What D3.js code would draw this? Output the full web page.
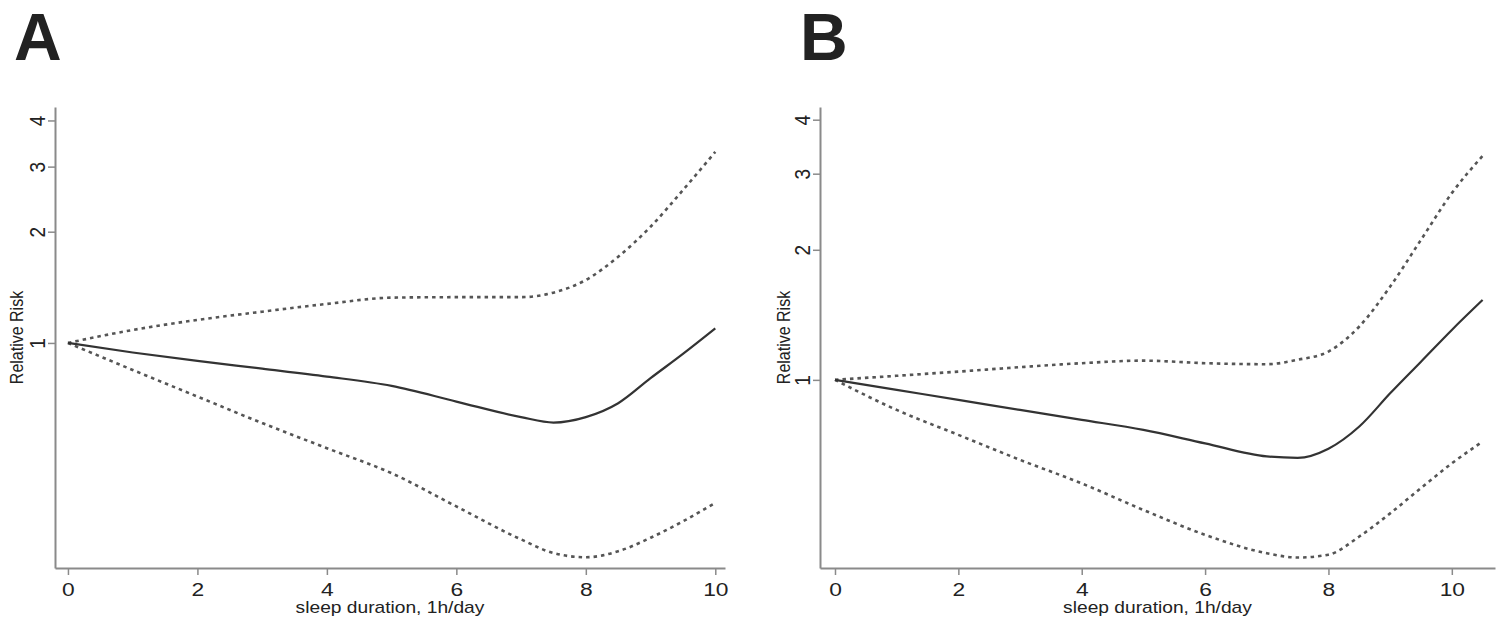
<!DOCTYPE html>
<html>
<head>
<meta charset="utf-8">
<script src="https://cdn.jsdelivr.net/npm/d3@7"></script>
<style>
  body { margin: 0; background: #fff; }
  svg { display: block; }
  text { font-family: "Liberation Sans", Arial, sans-serif; fill: #222; }
</style>
</head>
<body>
<svg id="chart" width="1500" height="628"></svg>
<script>
// sleep duration (h/day)
var sleepA = [0, 1, 2, 3, 4, 5, 6, 7, 7.5, 8, 8.5, 9, 9.5, 10];
var sleepB = [0, 1, 2, 3, 4, 5, 6, 7, 7.5, 8, 8.5, 9, 9.5, 10, 10.5];

// panel A: relative risk and 95% CI
var rrA    = [1, 0.942, 0.894, 0.852, 0.811, 0.765, 0.694, 0.630, 0.609, 0.630, 0.687, 0.803, 0.934, 1.095];
var upperA = [1, 1.084, 1.154, 1.215, 1.275, 1.326, 1.330, 1.330, 1.368, 1.480, 1.711, 2.063, 2.592, 3.289];
var lowerA = [1, 0.845, 0.716, 0.607, 0.519, 0.444, 0.361, 0.294, 0.270, 0.263, 0.273, 0.297, 0.329, 0.369];

// panel B
var rrB    = [1, 0.948, 0.899, 0.852, 0.808, 0.766, 0.713, 0.665, 0.660, 0.693, 0.780, 0.931, 1.102, 1.305, 1.531];
var upperB = [1, 1.022, 1.045, 1.070, 1.093, 1.108, 1.093, 1.087, 1.113, 1.163, 1.329, 1.644, 2.109, 2.705, 3.30];
var lowerB = [1, 0.852, 0.746, 0.653, 0.576, 0.500, 0.438, 0.397, 0.388, 0.394, 0.434, 0.491, 0.562, 0.641, 0.720];

var xTicks = [0, 2, 4, 6, 8, 10];
var yTicks = [1, 2, 3, 4];
var panelLetters = ["A", "B"];
var xTitle = "sleep duration, 1h/day";
var yTitle = "Relative Risk";

var svg = d3.select("#chart");
var sx = 1.2;   // the source figure is stretched sideways

function drawPanel(letter, sleep, rr, upper, lower, box) {
  var g = svg.append("g");

  var x = d3.scaleLinear().domain(box.xDomain).range([box.left, box.right]);
  var y = d3.scaleLog().domain(box.yDomain).range([box.bottom, box.top]);

  // axes
  var xAxis = g.append("g")
      .attr("transform", "translate(0," + box.bottom + ")")
      .call(d3.axisBottom(x).tickValues(xTicks).tickSize(7).tickSizeOuter(0).tickPadding(8).tickFormat(d3.format("d")));

  var yAxis = g.append("g")
      .attr("transform", "translate(" + box.left + ",0)")
      .call(d3.axisLeft(y).tickValues(yTicks).tickSize(7).tickSizeOuter(0).tickFormat(d3.format("d")));

  [xAxis, yAxis].forEach(a => {
    a.select(".domain").attr("stroke", "#8a8a8a").attr("stroke-width", 2);
    a.selectAll(".tick line").attr("stroke", "#8a8a8a").attr("stroke-width", 1.5);
    a.selectAll("text").style("font-size", "19px").attr("fill", "#222");
  });

  xAxis.selectAll(".tick text").attr("transform", "scale(" + sx + ",1)");

  yAxis.selectAll(".tick text")
      .attr("transform", "scale(" + sx + ",1) rotate(-90)")
      .attr("x", 0)
      .attr("y", -8.5)
      .attr("dy", 0)
      .attr("text-anchor", "middle");

  g.append("text")
      .attr("transform", "translate(" + ((box.left + box.right) / 2) + "," + (box.bottom + 45) + ") scale(" + sx + ",1)")
      .attr("text-anchor", "middle")
      .style("font-size", "16px")
      .text(xTitle);

  g.append("text")
      .attr("transform", "translate(" + (box.left - box.yTitleGap) + "," + ((box.top + box.bottom) / 2) + ") scale(" + sx + ",1) rotate(-90)")
      .attr("text-anchor", "middle")
      .style("font-size", "16px")
      .text(yTitle);

  // panel letter
  g.append("text")
      .attr("x", box.letterX)
      .attr("y", 60)
      .style("font-family", "'Liberation Sans', Arial, sans-serif")
      .style("font-weight", "bold")
      .style("font-size", "66px")
      .attr("fill", "#000")
      .text(letter);

  var line = d3.line()
      .x((d, i) => x(sleep[i]))
      .y(d => y(d))
      .curve(d3.curveMonotoneX);

  [upper, lower].forEach(band => {
    g.append("path")
        .datum(band)
        .attr("d", line)
        .attr("fill", "none")
        .attr("stroke", "#555")
        .attr("stroke-width", 2.6)
        .attr("stroke-dasharray", "3.5,4");
  });

  g.append("path")
      .datum(rr)
      .attr("d", line)
      .attr("fill", "none")
      .attr("stroke", "#333")
      .attr("stroke-width", 2.2);
}

drawPanel(panelLetters[0], sleepA, rrA, upperA, lowerA,
  {left: 55, right: 725, top: 107, bottom: 568, xDomain: [-0.2, 10.15], yDomain: [0.246, 4.35], letterX: 14, yTitleGap: 32});

drawPanel(panelLetters[1], sleepB, rrB, upperB, lowerB,
  {left: 820, right: 1495, top: 107, bottom: 568, xDomain: [-0.243, 10.7], yDomain: [0.367, 4.28], letterX: 800, yTitleGap: 30});
</script>
</body>
</html>
